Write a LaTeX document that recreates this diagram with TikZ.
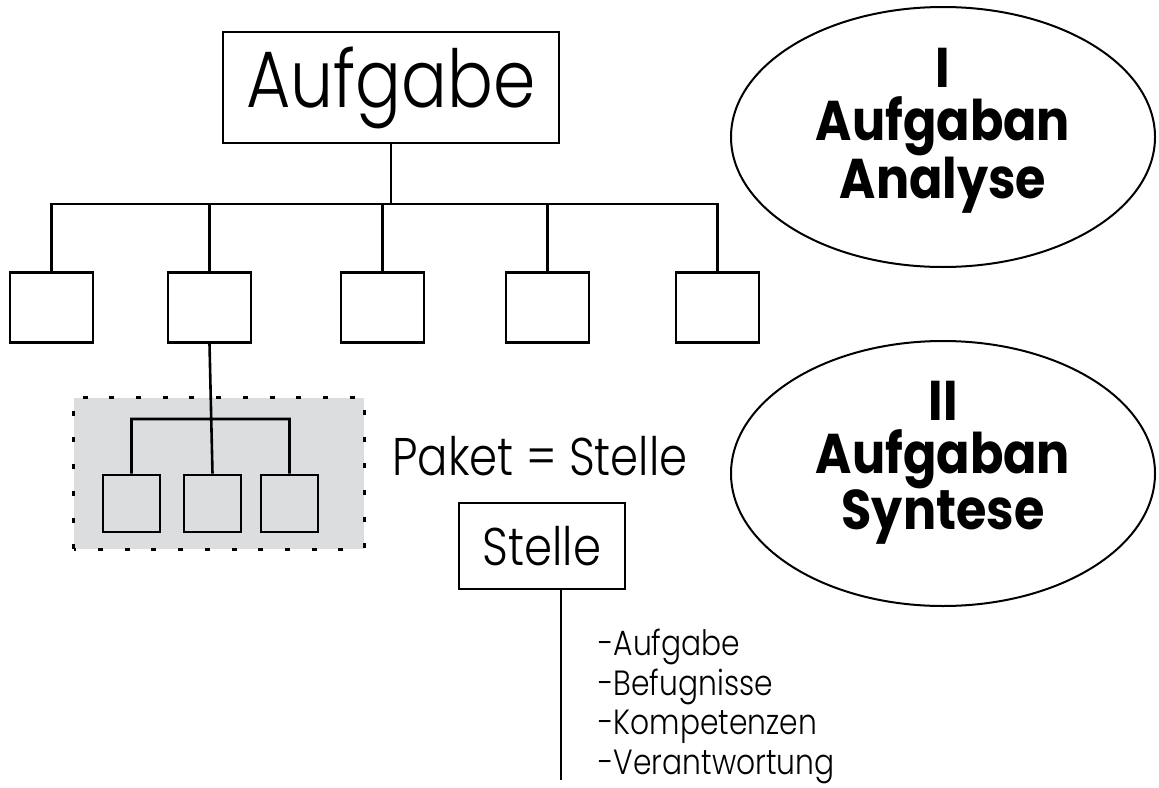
\documentclass[tikz,border=0pt]{standalone}
\usepackage{fontspec}
\setmainfont{Poppins}
\newfontfamily\thinfont{Poppins Light}[FakeStretch=0.85]
\newfontfamily\heavyfont{Poppins}[FakeStretch=0.88]
\usetikzlibrary{shapes.geometric}
\definecolor{paketgray}{HTML}{DCDDDE}

\begin{document}
\begin{tikzpicture}[x=1pt,y=-1pt,
  box/.style={draw,line width=2.6pt,inner sep=0pt},
  oval/.style={draw,ellipse,line width=2pt,inner sep=0pt},
  ovaltext/.style={align=center,font=\heavyfont\bfseries\fontsize{56}{53}\selectfont}]
  \useasboundingbox (0,0) rectangle (1159,787);

  % paket in the background
  \node (P) at (219,473.5) [fill=paketgray,minimum width=290pt,minimum height=151pt,inner sep=0pt] {};
  \draw[line width=3pt,dash pattern=on 5pt off 21.7pt] (P.south west) rectangle (P.north east);

  \node (Auf) at (391,87.5) [box,minimum width=336pt,minimum height=111pt,font=\thinfont\fontsize{80}{80}\selectfont] {Aufgabe};

  \node (T1) at (51.5,307.5) [box,minimum width=83pt,minimum height=70pt] {};
  \node (T2) at (209.5,307.5) [box,minimum width=83pt,minimum height=70pt] {};
  \node (T3) at (382.5,307.5) [box,minimum width=83pt,minimum height=70pt] {};
  \node (T4) at (547.5,307.5) [box,minimum width=83pt,minimum height=70pt] {};
  \node (T5) at (717.5,307.5) [box,minimum width=83pt,minimum height=70pt] {};

  \node (S1) at (131.5,503.5) [box,minimum width=57pt,minimum height=57pt] {};
  \node (S2) at (212.5,503.5) [box,minimum width=57pt,minimum height=57pt] {};
  \node (S3) at (289.5,503.5) [box,minimum width=57pt,minimum height=57pt] {};

  \coordinate (bus) at (0,204);
  \coordinate (sub) at (0,419);

  \draw[line width=2.6pt]
    (Auf.south) -- (Auf.south |- bus)
    (T1.north) |- (bus -| T5.north) -- (T5.north);
  \foreach \n in {2,3,4}
    \draw[line width=2.6pt] (T\n.north) -- (T\n.north |- bus);

  \draw[line width=2.6pt]
    (T2.south) -- (S2.north)
    (S1.north) |- (sub -| S3.north) -- (S3.north);

  \node (gleich) at (540,475) [anchor=base,font=\thinfont\fontsize{53}{53}\selectfont] {Paket = Stelle};

  \node (St) at (542,546) [box,minimum width=166pt,minimum height=86pt,font=\thinfont\fontsize{53}{53}\selectfont] {Stelle};
  \coordinate (ende) at (561,780);
  \draw[line width=2.6pt] (ende |- St.south) -- (ende);

  \node (liste) at (598,629) [anchor=north west,inner sep=0pt,align=left,font=\thinfont\fontsize{35}{39.5}\selectfont]
    {-Aufgabe\\-Befugnisse\\-Kompetenzen\\-Verantwortung};

  \node (ana) at (943,137) [oval,minimum width=424pt,minimum height=260pt] {};
  \node (anatext) at (943,131) [ovaltext] {I\\Aufgaban\\Analyse};

  \node (syn) at (943,473.5) [oval,minimum width=424pt,minimum height=265pt] {};
  \node (syntext) at (943,463) [ovaltext] {II\\Aufgaban\\Syntese};
\end{tikzpicture}
\end{document}
